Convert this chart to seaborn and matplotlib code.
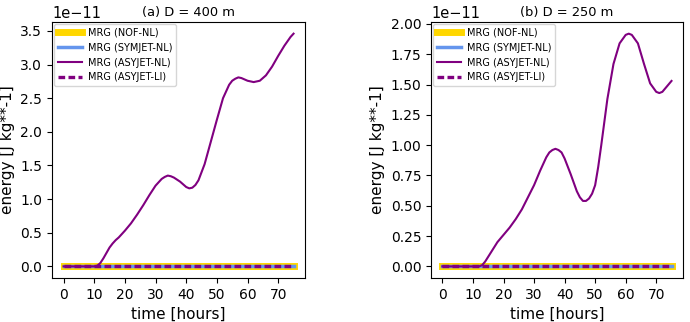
import matplotlib
matplotlib.use("Agg")
import matplotlib.pyplot as plt
import seaborn as sns

# time axis (hours) and MRG energy (units of 1e-11 J/kg)
time_a = [0, 5, 10, 11, 12, 13, 14, 15, 16, 17, 18, 20, 22, 24, 26, 28, 30, 32, 33, 34,
          35, 36, 38, 40, 41, 42, 43, 44, 46, 48, 50, 52, 54, 55, 56, 57, 58, 59, 60,
          62, 64, 66, 68, 70, 72, 74, 75]
asyjet_nl_a = [0.0, 0.0, 0.0, 0.01, 0.05, 0.12, 0.2, 0.28, 0.34, 0.39, 0.43, 0.53, 0.64,
               0.77, 0.91, 1.06, 1.2, 1.3, 1.33, 1.35, 1.34, 1.32, 1.26, 1.18, 1.16, 1.17,
               1.21, 1.28, 1.52, 1.85, 2.18, 2.5, 2.7, 2.76, 2.79, 2.81, 2.8, 2.78, 2.76,
               2.74, 2.76, 2.84, 2.97, 3.13, 3.28, 3.41, 3.46]

time_b = [0, 5, 10, 12, 13, 14, 15, 16, 17, 18, 19, 20, 22, 24, 26, 28, 30, 32, 34, 35,
          36, 37, 38, 39, 40, 42, 44, 45, 46, 47, 48, 49, 50, 51, 52, 54, 56, 58, 60, 61,
          62, 64, 66, 68, 70, 71, 72, 74, 75]
asyjet_nl_b = [0.0, 0.0, 0.0, 0.0, 0.01, 0.04, 0.08, 0.12, 0.16, 0.2, 0.23, 0.26, 0.32,
               0.39, 0.47, 0.57, 0.67, 0.79, 0.9, 0.94, 0.96, 0.97, 0.96, 0.94, 0.89, 0.76,
               0.62, 0.57, 0.54, 0.54, 0.56, 0.6, 0.67, 0.82, 1.0, 1.38, 1.67, 1.84, 1.91,
               1.92, 1.91, 1.84, 1.67, 1.51, 1.44, 1.43, 1.44, 1.5, 1.53]

# the other three experiments stay at zero the whole run
flat_time = [0, 75]
flat_vals = [0.0, 0.0]

titles = ["(a) D = 400 m", "(b) D = 250 m"]
labels = ["MRG (NOF-NL)", "MRG (SYMJET-NL)", "MRG (ASYJET-NL)", "MRG (ASYJET-LI)"]
scale = 1e-11

fig = plt.figure(figsize=(6.9, 3.22), dpi=100)
ax_a = fig.add_axes([0.0754, 0.1366, 0.3667, 0.795])
ax_b = fig.add_axes([0.6246, 0.1366, 0.3652, 0.795])

panels = [(ax_a, time_a, asyjet_nl_a), (ax_b, time_b, asyjet_nl_b)]
for (ax, t, e), title in zip(panels, titles):
    flat = [v * scale for v in flat_vals]
    sns.lineplot(x=flat_time, y=flat, ax=ax, color="gold", lw=5, label=labels[0])
    sns.lineplot(x=flat_time, y=flat, ax=ax, color="cornflowerblue", lw=2.5, label=labels[1])
    sns.lineplot(x=t, y=[v * scale for v in e], ax=ax, color="purple", lw=1.5, label=labels[2])
    sns.lineplot(x=flat_time, y=flat, ax=ax, color="purple", lw=2.4,
                 linestyle=(0, (2, 1)), label=labels[3])
    # fixed y keeps the title beside the 1e-11 offset text instead of above it
    ax.set_title(title, fontsize=9.4, x=0.54, y=1.0, pad=4)
    ax.set_xlabel("time [hours]", fontsize=11)
    ax.set_ylabel("energy [J kg**-1]", fontsize=11)
    ax.set_xticks([0, 10, 20, 30, 40, 50, 60, 70])
    ax.tick_params(labelsize=10)
    ax.yaxis.get_offset_text().set_fontsize(10.5)
    ax.legend(loc="upper left", fontsize=7, handlelength=2.5, handletextpad=0.6,
              labelspacing=0.5, borderaxespad=0.2, borderpad=0.4)

fig.savefig("out.png", dpi=100)
